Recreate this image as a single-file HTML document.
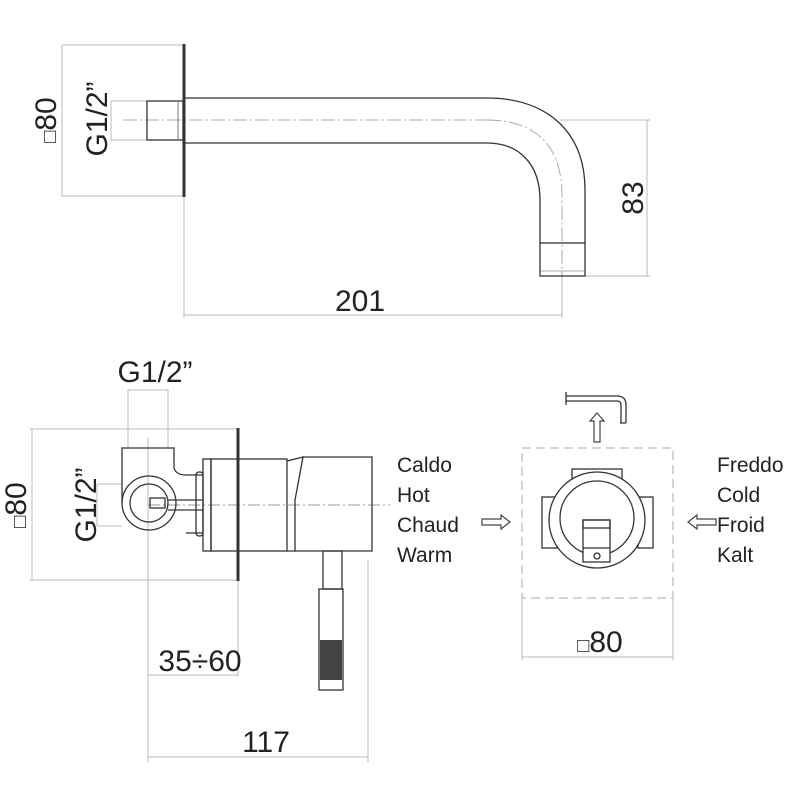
<!DOCTYPE html>
<html><head><style>body{margin:0;background:#fff}svg{display:block}</style></head><body>
<svg width="800" height="800" viewBox="0 0 800 800" xmlns="http://www.w3.org/2000/svg" font-family="Liberation Sans, sans-serif" fill="none" stroke-linecap="butt">
<rect width="800" height="800" fill="#fff"/>
<!-- TOP VIEW -->
<g stroke="#bbb" stroke-width="1">
<line x1="62" y1="45" x2="184" y2="45"/><line x1="62" y1="196" x2="184" y2="196"/><line x1="62" y1="45" x2="62" y2="196"/>
<line x1="111" y1="101" x2="147" y2="101"/><line x1="111" y1="140" x2="147" y2="140"/><line x1="111" y1="101" x2="111" y2="140"/>
<line x1="184" y1="196" x2="184" y2="318"/><line x1="184" y1="315" x2="562" y2="315"/>
<line x1="562" y1="276" x2="562" y2="318"/>
<line x1="585" y1="276" x2="650" y2="276"/><line x1="647" y1="120" x2="647" y2="276"/>
<line x1="560" y1="120" x2="650" y2="120"/>
</g>
<g stroke="#aaa" stroke-width="1" stroke-dasharray="14 3 2 3">
<line x1="123" y1="120" x2="487" y2="120"/>
<path d="M487,120 C535,120 562,145 562,195 L562,276"/>
</g>
<line x1="184" y1="44" x2="184" y2="197" stroke="#333" stroke-width="3"/>
<rect x="147" y="101" width="36" height="39" stroke="#333" stroke-width="1.3"/>
<line x1="178" y1="101" x2="178" y2="140" stroke="#777" stroke-width="1"/>
<g stroke="#333" stroke-width="1.3">
<path d="M185,98 L487,98 C545,98 585,130 585,190 L585,243"/>
<path d="M185,143 L487,143 C520,143 540,165 540,200 L540,243"/>
<rect x="540" y="243" width="45" height="33"/>
</g>
<line x1="541" y1="271" x2="584" y2="271" stroke="#aaa"/>
<g fill="#222" font-size="30">
<text x="360" y="311" text-anchor="middle">201</text>
<text transform="translate(643,198) rotate(-90)" text-anchor="middle">83</text>
<text transform="translate(107,119) rotate(-90)" text-anchor="middle">G1/2”</text>
<text transform="translate(56,120) rotate(-90)" text-anchor="middle"><tspan font-size="20">&#9633;</tspan>80</text>
</g>
<!-- BOTTOM LEFT -->
<g stroke="#bbb" stroke-width="1">
<line x1="30" y1="429" x2="238" y2="429"/><line x1="30" y1="580" x2="238" y2="580"/><line x1="32" y1="429" x2="32" y2="580"/>
<line x1="128" y1="390" x2="168" y2="390"/><line x1="128" y1="390" x2="128" y2="449"/><line x1="168" y1="390" x2="168" y2="449"/>
<line x1="97" y1="484" x2="122" y2="484"/><line x1="97" y1="526" x2="122" y2="526"/><line x1="97" y1="484" x2="97" y2="526"/>
<line x1="148" y1="438" x2="148" y2="762"/>
<line x1="238" y1="580" x2="238" y2="677"/><line x1="148" y1="675" x2="238" y2="675"/>
<line x1="368" y1="560" x2="368" y2="762"/><line x1="148" y1="757" x2="368" y2="757"/>
</g>
<line x1="148" y1="505" x2="390" y2="505" stroke="#999" stroke-dasharray="12 3 2 3"/>
<g stroke="#333" stroke-width="1.3">
<path d="M122,503 L122,448 L174,448 L174,468 Q176,475 186,475 L203,475"/>
<path d="M186,533 L203,533"/>
<circle cx="149" cy="503" r="27"/>
<circle cx="149" cy="503" r="19"/>
<rect x="150" y="498" width="15" height="10"/>
<line x1="168" y1="500" x2="203" y2="500"/><line x1="168" y1="510" x2="203" y2="510"/>
<rect x="196" y="472" width="7" height="64" rx="3"/>
<rect x="203" y="459" width="8" height="92"/>
<rect x="211" y="459" width="76" height="92"/>
<path d="M287,461 L303,457 L295,500 L295,551 L287,551"/>
<path d="M303,457 L372,457 L372,551 L295,551"/>
<rect x="323" y="551" width="19" height="38"/>
<rect x="319" y="589" width="24" height="101"/>
</g>
<rect x="320" y="640" width="22" height="40" fill="#444"/>
<line x1="238" y1="428" x2="238" y2="581" stroke="#333" stroke-width="3"/>
<g fill="#222" font-size="30">
<text x="155" y="382" text-anchor="middle">G1/2”</text>
<text transform="translate(96,505) rotate(-90)" text-anchor="middle">G1/2”</text>
<text transform="translate(26,505) rotate(-90)" text-anchor="middle"><tspan font-size="20">&#9633;</tspan>80</text>
<text x="200" y="671" text-anchor="middle">35÷60</text>
<text x="266" y="752" text-anchor="middle">117</text>
</g>
<!-- BOTTOM RIGHT -->
<rect x="522" y="448" width="151" height="150" stroke="#aaa" stroke-dasharray="9 5"/>
<g stroke="#bbb"><line x1="522" y1="598" x2="522" y2="660"/><line x1="673" y1="598" x2="673" y2="660"/><line x1="522" y1="657" x2="673" y2="657"/></g>
<g stroke="#333" stroke-width="1.3">
<rect x="572" y="469" width="50" height="12" fill="#fff"/>
<rect x="542" y="497" width="15" height="51" fill="#fff"/>
<rect x="638" y="497" width="15" height="51" fill="#fff"/>
<circle cx="597" cy="520" r="48" fill="#fff"/>
<circle cx="597" cy="518" r="37"/>
<rect x="583" y="520" width="27" height="42" fill="#fff"/>
<line x1="583" y1="548" x2="610" y2="548"/>
<rect x="583" y="520" width="27" height="8"/>
<circle cx="597" cy="556" r="3"/>
<path d="M566,396 L617,396 Q626,396 626,405 L626,423 M620,423 L626,423"/>
<path d="M566,401 L617,401 Q621,401 621,405 L621,423"/>
<line x1="566" y1="392" x2="566" y2="405"/>
</g>
<g stroke="#444" stroke-width="1.2">
<path d="M594,442 L594,421 L590,421 L597,413 L604,421 L600,421 L600,442 Z"/>
<path d="M482,519 L501,519 L501,515 L510,522 L501,529 L501,525 L482,525 Z"/>
<path d="M716,519 L697,519 L697,515 L688,522 L697,529 L697,525 L716,525 Z"/>
</g>
<g fill="#222" font-size="21">
<text x="397" y="472">Caldo</text><text x="397" y="502">Hot</text><text x="397" y="532">Chaud</text><text x="397" y="562">Warm</text>
<text x="717" y="472">Freddo</text><text x="717" y="502">Cold</text><text x="717" y="532">Froid</text><text x="717" y="562">Kalt</text>
</g>
<text x="600" y="652" fill="#222" font-size="30" text-anchor="middle"><tspan font-size="20">&#9633;</tspan>80</text>
</svg>
</body></html>
